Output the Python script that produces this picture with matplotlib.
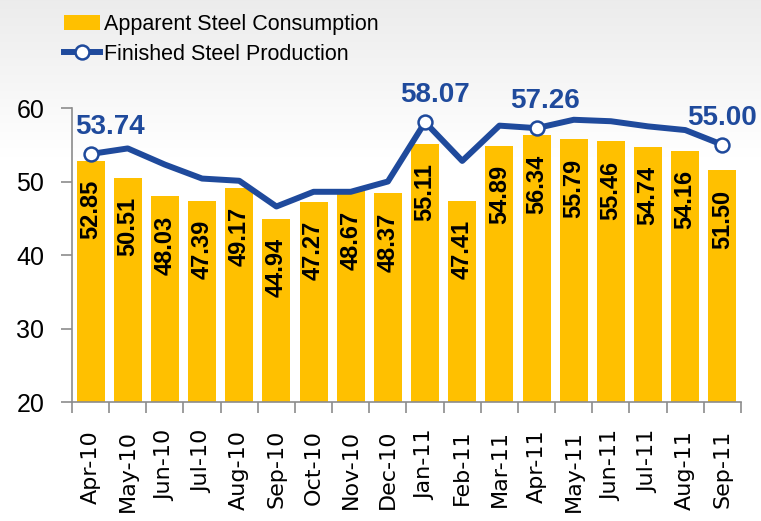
import numpy as np
import matplotlib.pyplot as plt
from matplotlib.lines import Line2D
from matplotlib.patches import Patch

months = ['Apr-10', 'May-10', 'Jun-10', 'Jul-10', 'Aug-10', 'Sep-10', 'Oct-10', 'Nov-10', 'Dec-10',
          'Jan-11', 'Feb-11', 'Mar-11', 'Apr-11', 'May-11', 'Jun-11', 'Jul-11', 'Aug-11', 'Sep-11']
consumption = [52.85, 50.51, 48.03, 47.39, 49.17, 44.94, 47.27, 48.67, 48.37,
               55.11, 47.41, 54.89, 56.34, 55.79, 55.46, 54.74, 54.16, 51.50]
production = [53.74, 54.5, 52.3, 50.4, 50.1, 46.6, 48.6, 48.6, 50.0,
              58.07, 52.8, 57.6, 57.26, 58.4, 58.2, 57.5, 57.0, 55.00]
labelled = [0, 9, 12, 17]

bar_color = '#FFC000'
line_color = '#1F4A9C'
arial = ['Liberation Sans', 'DejaVu Sans']

fig = plt.figure(figsize=(7.61, 5.21), dpi=100)

# grey-to-white background
bg = fig.add_axes([0, 0, 1, 1], zorder=-10)
grad = np.linspace(0.925, 1.0, 300)
grad = np.concatenate([grad, np.ones(700)])[:, None]
bg.imshow(np.dstack([grad] * 3), aspect='auto', extent=[0, 1, 0, 1], origin='upper')
bg.set_axis_off()

ax = fig.add_axes([0.0946, 0.2284, 0.8791, 0.5643])
ax.patch.set_alpha(0)
x = np.arange(len(months))
ax.bar(x, consumption, width=0.75, color=bar_color, zorder=2)
ax.plot(x, production, color=line_color, lw=4.3, marker='o', markevery=labelled,
        markersize=10, markerfacecolor='white', markeredgecolor=line_color,
        markeredgewidth=1.8, zorder=3)

for i, v in enumerate(consumption):
    ax.annotate(f'{v:.2f}', (i, v), xytext=(0, -14), textcoords='offset points',
                rotation=90, ha='center', va='top', fontsize=17, fontweight='bold',
                family=arial, color='black', zorder=4)

offsets = [14, 7, 6, 0]
for i, dx in zip(labelled, offsets):
    ax.annotate(f'{production[i]:.2f}', (i, production[i]), xytext=(dx, 10),
                textcoords='offset points', ha='center', va='bottom', fontsize=20,
                fontweight='bold', family=arial, color=line_color, zorder=4,
                annotation_clip=False)

ax.set_ylim(20, 60)
ax.set_xlim(-0.5, len(months) - 0.5)
ax.set_yticks([20, 30, 40, 50, 60])
ax.set_yticklabels(['20', '30', '40', '50', '60'], family=arial, fontsize=18)
ax.set_xticks(x)
ax.set_xticklabels(months, rotation=90, fontsize=16, family='DejaVu Sans')
ax.set_xticks(np.arange(-0.5, len(months)), minor=True)
ax.tick_params(axis='x', which='major', length=0, pad=20)
ax.tick_params(axis='x', which='minor', length=8, color='#8c8c8c', width=1.2)
ax.tick_params(axis='y', length=8, color='#8c8c8c', width=1.2, pad=12)
for s in ['top', 'right']:
    ax.spines[s].set_visible(False)
for s in ['left', 'bottom']:
    ax.spines[s].set_color('#8c8c8c')
    ax.spines[s].set_linewidth(1.2)

handles = [Patch(facecolor=bar_color, edgecolor='none'),
           Line2D([], [], color=line_color, lw=4.3, marker='o', markersize=10,
                  markerfacecolor='white', markeredgecolor=line_color, markeredgewidth=1.8)]
fig.legend(handles, ['Apparent Steel Consumption', 'Finished Steel Production'],
           loc='upper left', bbox_to_anchor=(0.058, 1.01), frameon=False,
           prop={'family': arial, 'size': 15.5}, handlelength=1.7, handletextpad=0.2,
           labelspacing=0.4)

fig.savefig('out.png', dpi=100)
